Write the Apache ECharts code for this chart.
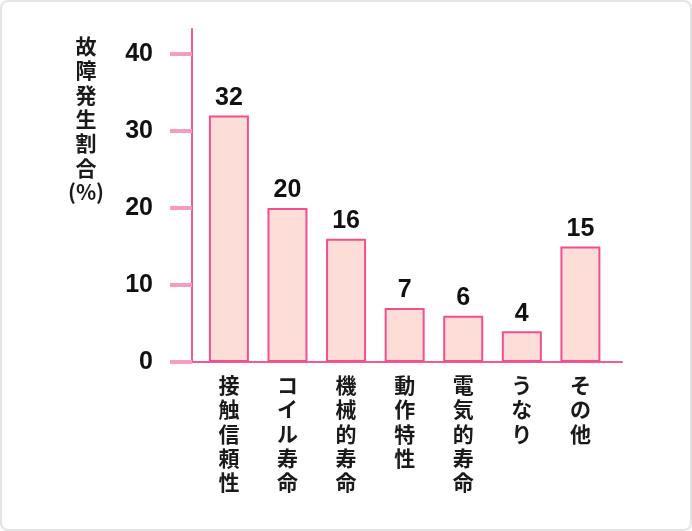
<!DOCTYPE html>
<html><head><meta charset="utf-8">
<script src="https://cdn.jsdelivr.net/npm/echarts@6/dist/echarts.min.js"></script>
<style>
html,body{margin:0;padding:0;background:#fff}
#c{width:692px;height:531px;position:absolute;left:0;top:0}
#f{position:absolute;left:0;top:0;width:692px;height:531px;box-sizing:border-box;border:2px solid #e4e4e4;border-radius:8px;pointer-events:none}
</style></head>
<body><div id="c"></div><div id="f"></div>
<script>
const categories = ['接触信頼性','コイル寿命','機械的寿命','動作特性','電気的寿命','うなり','その他'];
const values = [32, 20, 16, 7, 6, 4, 15];
const yTicks = [0, 10, 20, 30, 40];
const yTitle = '故障発生割合';
const yUnit = '(%)';

const FONT = "'Liberation Sans','Noto Sans CJK JP',sans-serif";
const CJK = "'Noto Sans CJK JP','Liberation Sans',sans-serif";
const chart = echarts.init(document.getElementById('c'));
chart.setOption({
  animation: false,
  backgroundColor: '#fff',
  grid: { left: 192, right: 70, top: 29, bottom: 169 },
  graphic: [{
    type: 'text', x: 86, y: 34,
    style: {
      text: yTitle.split('').join('\n') + '\n' + yUnit,
      align: 'center', verticalAlign: 'top',
      fontSize: 21, lineHeight: 24.3, fontWeight: 'bold',
      fontFamily: CJK, fill: '#1a1a1a'
    }
  }],
  xAxis: {
    type: 'value', min: -0.63, max: 6.71,
    splitLine: { show: false },
    axisTick: { show: false },
    axisLine: { show: true, onZero: false, lineStyle: { color: '#F3589A', width: 2 } },
    axisLabel: {
      customValues: categories.map((_, i) => i),
      formatter: v => (categories[Math.round(v)] || '').split('').join('\n'),
      fontSize: 21, lineHeight: 24.3, fontWeight: 'bold', fontFamily: CJK,
      color: '#1a1a1a', margin: 11, verticalAlign: 'top'
    }
  },
  yAxis: {
    type: 'value', min: 0, max: 43.25,
    splitLine: { show: false },
    axisLine: { show: true, onZero: false, lineStyle: { color: '#F3589A', width: 2 } },
    axisTick: { show: true, customValues: yTicks, length: 22, lineStyle: { color: '#F59CC0', width: 4 } },
    axisLabel: { customValues: yTicks, margin: 39, fontSize: 25, fontWeight: 'bold', fontFamily: FONT, color: '#111' }
  },
  series: [{
    type: 'bar',
    barWidth: 40,
    data: values.map((v, i) => [i, v]),
    itemStyle: { color: '#FCDDD7', borderColor: '#F24F8C', borderWidth: 2 },
    label: { show: true, position: 'top', distance: 5, fontSize: 25, fontWeight: 'bold', fontFamily: FONT, color: '#111' }
  }]
});
</script></body></html>
